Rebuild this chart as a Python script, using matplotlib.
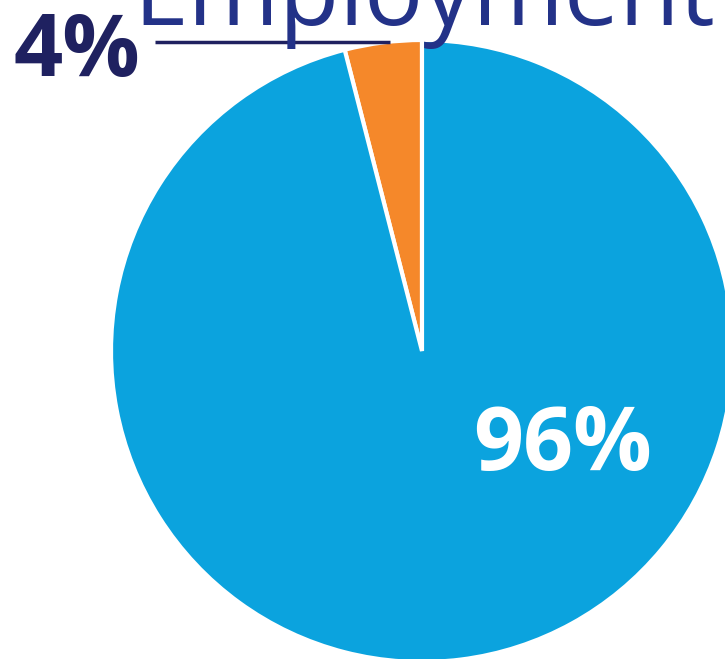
import matplotlib
matplotlib.use("Agg")
from matplotlib import pyplot as plt

# Employment share
labels = ["Other", "Employed"]
shares = [4, 96]
colors = ["#f5882a", "#0ba3de"]

title = "Employment"
small_label = "4%"
big_label = "96%"

W, H = 725, 659
fig = plt.figure(figsize=(W / 100, H / 100), dpi=100)
ax = fig.add_axes([0, 0, 1, 1])
ax.set_xlim(0, W)
ax.set_ylim(0, H)
ax.set_aspect("equal")
ax.axis("off")

# pie, slightly cut by the figure edge on the right and bottom
ax.pie(shares, colors=colors, startangle=90, counterclock=True,
       center=(422, H - 351), radius=311,
       wedgeprops=dict(edgecolor="white", linewidth=3))
ax.set_xlim(0, W)
ax.set_ylim(0, H)

# title, cut off at the top of the picture as in the original
ax.text(133, H - 25, title, fontsize=71, color="#233288",
        family=["Open Sans", "DejaVu Sans"], ha="left", va="baseline")
ax.plot([155, 390], [H - 42, H - 42], color="#1f2160", lw=2.5,
        solid_capstyle="butt")

ax.text(14, H - 76, small_label, fontsize=62, color="#1f2160",
        fontweight="bold", family=["Open Sans", "DejaVu Sans"],
        ha="left", va="baseline")
ax.text(473, H - 470, big_label, fontsize=63, color="white",
        fontweight="bold", family=["Open Sans", "DejaVu Sans"],
        ha="left", va="baseline")

fig.savefig("out.png", dpi=100)
